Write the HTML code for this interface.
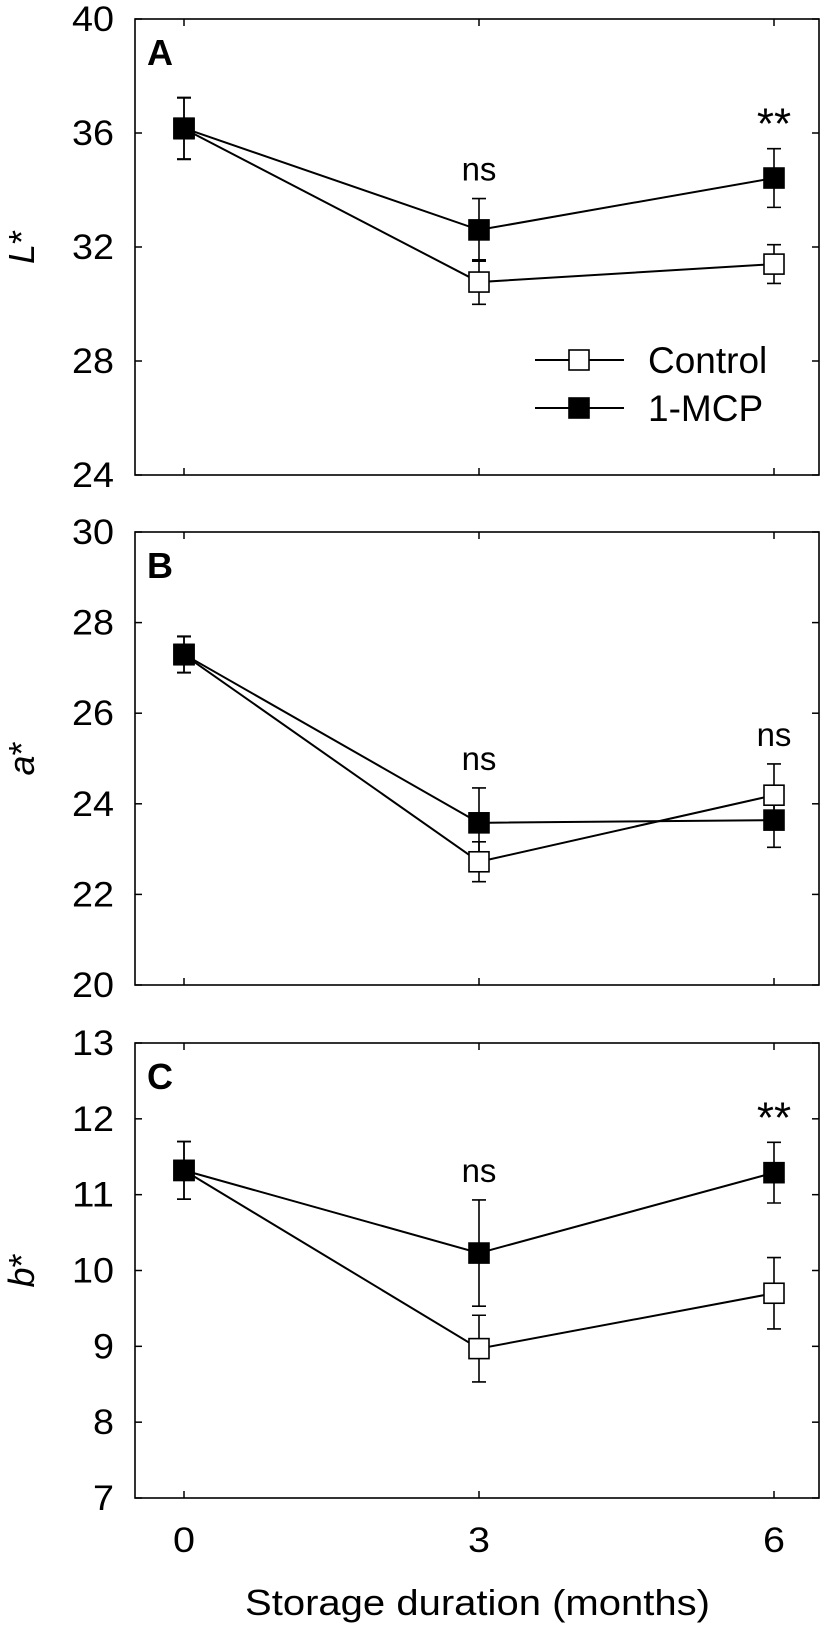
<!DOCTYPE html>
<html><head><meta charset="utf-8"><style>
html,body{margin:0;padding:0;background:#fff;}
svg{display:block;font-family:"Liberation Sans",Arial,sans-serif;}
</style></head>
<body>
<svg id="chart" width="827" height="1626" viewBox="0 0 827 1626" xmlns="http://www.w3.org/2000/svg"></svg>
<script>
// ---- data ----
const months = [0, 3, 6];
const seriesNames = ["Control", "1-MCP"];
// Panel A (L*)
const lControl = [36.15, 30.77, 31.4];
const lControlErr = [1.08, 0.78, 0.68];
const lMcp = [36.17, 32.6, 34.42];
const lMcpErr = [1.08, 1.1, 1.03];
const lTicks = [24, 28, 32, 36, 40];
const lSig = ["", "ns", "**"];
// Panel B (a*)
const aControl = [27.29, 22.72, 24.19];
const aControlErr = [0.4, 0.44, 0.69];
const aMcp = [27.3, 23.58, 23.64];
const aMcpErr = [0.4, 0.77, 0.6];
const aTicks = [20, 22, 24, 26, 28, 30];
const aSig = ["", "ns", "ns"];
// Panel C (b*)
const bControl = [11.32, 8.97, 9.7];
const bControlErr = [0.38, 0.44, 0.47];
const bMcp = [11.32, 10.23, 11.29];
const bMcpErr = [0.38, 0.7, 0.4];
const bTicks = [7, 8, 9, 10, 11, 12, 13];
const bSig = ["", "ns", "**"];
const xTicks = [0, 3, 6];

const NS = "http://www.w3.org/2000/svg";
const svg = document.getElementById("chart");
function mk(tag, attrs, parent) {
  const e = document.createElementNS(NS, tag);
  for (const k in attrs) e.setAttribute(k, attrs[k]);
  (parent || svg).appendChild(e);
  return e;
}
const L = 135, R = 819;
function xScale(m) { return 184 + (m - 0) * (774 - 184) / 6; }

function panel(cfg) {
  const g = mk("g", {});
  
  
  const T = cfg.top, B = cfg.bottom;
  const ymin = cfg.ticks[0], ymax = cfg.ticks[cfg.ticks.length - 1];
  const y = v => B - (v - ymin) * (B - T) / (ymax - ymin);
  const frame = mk("rect", {x: L, y: T, width: R - L, height: B - T, fill: "none", stroke: "#000", "stroke-width": 1.6}, g);
  
  
  cfg.ticks.forEach(t => {
    const ty = y(t);
    const tk = mk("line", {x1: L, x2: L + 7, y1: ty, y2: ty, stroke: "#000", "stroke-width": 1.5}, g);
    
    
    mk("line", {x1: R - 7, x2: R, y1: ty, y2: ty, stroke: "#000", "stroke-width": 1.5}, g);
    const s = String(t);
    const lb = mk("text", {x: 114, y: ty + 12, "text-anchor": "end", "font-size": 35, textLength: s.length * 21, lengthAdjust: "spacingAndGlyphs"}, g);
    lb.textContent = s;
    
    
  });
  xTicks.forEach(m => {
    const tx = xScale(m);
    mk("line", {x1: tx, x2: tx, y1: T, y2: T + 7, stroke: "#000", "stroke-width": 1.5}, g);
    const bt = mk("line", {x1: tx, x2: tx, y1: B, y2: B - 7, stroke: "#000", "stroke-width": 1.5}, g);
    
    
  });
  const letter = mk("text", {x: 147, y: T + 46, "font-size": 36, "font-weight": "bold"}, g);
  letter.textContent = cfg.letter;
  
  
  const yc = (T + B) / 2;
  const yt = mk("text", {x: 34, y: yc, "text-anchor": "middle", "font-size": 36, transform: "rotate(-90 34 " + yc + ")"}, g);
  yt.innerHTML = '<tspan font-style="italic">' + cfg.axis + '</tspan>*';
  
  

  const series = [
    {name: "control", vals: cfg.control, err: cfg.controlErr, fill: "#fff"},
    {name: "mcp", vals: cfg.mcp, err: cfg.mcpErr, fill: "#000"}
  ];
  series.forEach(s => {
    s.vals.forEach((v, i) => {
      const cx = xScale(months[i]);
      const eb = mk("path", {d: "M" + cx + " " + y(v + s.err[i]) + "V" + y(v - s.err[i]) +
        "M" + (cx - 7) + " " + y(v + s.err[i]) + "h14M" + (cx - 7) + " " + y(v - s.err[i]) + "h14",
        stroke: "#000", "stroke-width": 1.6, fill: "none"}, g);
      
      
    });
  });
  series.forEach(s => {
    const ln = mk("polyline", {points: s.vals.map((v, i) => xScale(months[i]) + "," + y(v)).join(" "), fill: "none", stroke: "#000", "stroke-width": 2}, g);
    
    
  });
  series.forEach(s => {
    s.vals.forEach((v, i) => {
      const cx = xScale(months[i]);
      const mkr = mk("rect", {x: cx - 10, y: y(v) - 10, width: 20, height: 20, fill: s.fill, stroke: "#000", "stroke-width": 1.6}, g);
      
      
    });
  });
  cfg.sig.forEach((t, i) => {
    if (!t) return;
    const cx = xScale(months[i]);
    const hi = Math.min(...series.map(s => y(s.vals[i] + s.err[i])));
    const st = mk("text", {x: cx, y: t === "ns" ? hi - 18 : hi - 10, "text-anchor": "middle", "font-size": t === "ns" ? 33 : 44}, g);
    st.textContent = t;
    
    
  });
  return g;
}

panel({name: "panel-a-lightness", top: 19, bottom: 475, ticks: lTicks, letter: "A", axis: "L",
  control: lControl, controlErr: lControlErr, mcp: lMcp, mcpErr: lMcpErr, sig: lSig});
panel({name: "panel-b-a-star", top: 532, bottom: 985, ticks: aTicks, letter: "B", axis: "a",
  control: aControl, controlErr: aControlErr, mcp: aMcp, mcpErr: aMcpErr, sig: aSig});
panel({name: "panel-c-b-star", top: 1043, bottom: 1498, ticks: bTicks, letter: "C", axis: "b",
  control: bControl, controlErr: bControlErr, mcp: bMcp, mcpErr: bMcpErr, sig: bSig});

// legend
const lg = mk("g", {});


[[360, "#fff"], [408, "#000"]].forEach((r, i) => {
  const e = mk("g", {}, lg);
  
  
  mk("line", {x1: 535, x2: 624, y1: r[0], y2: r[0], stroke: "#000", "stroke-width": 2}, e);
  mk("rect", {x: 569, y: r[0] - 10, width: 20, height: 20, fill: r[1], stroke: "#000", "stroke-width": 1.6}, e);
  const t = mk("text", {x: 648, y: r[0] + 13, "font-size": 37}, e);
  t.textContent = seriesNames[i];
});

// x axis labels
xTicks.forEach(m => {
  const t = mk("text", {x: xScale(m), y: 1552, "text-anchor": "middle", "font-size": 35, textLength: 22, lengthAdjust: "spacingAndGlyphs"});
  t.textContent = String(m);
  
  
});
const xt = mk("text", {x: 245, y: 1615, "font-size": 36, textLength: 465, lengthAdjust: "spacingAndGlyphs"});
xt.textContent = "Storage duration (months)";


</script>
</body></html>
